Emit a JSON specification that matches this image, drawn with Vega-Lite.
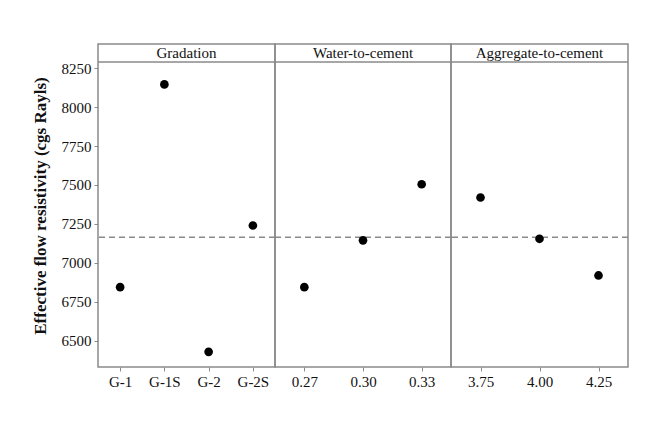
{
  "$schema": "https://vega.github.io/schema/vega-lite/v6.json",
  "background": "white",
  "padding": {"left": 30, "top": 43, "right": 5, "bottom": 5},
  "bounds": "flush",
  "datasets": {
    "effects": [
      {"factor": "Gradation", "level": "G-1", "value": 6845},
      {"factor": "Gradation", "level": "G-1S", "value": 8145},
      {"factor": "Gradation", "level": "G-2", "value": 6430},
      {"factor": "Gradation", "level": "G-2S", "value": 7240},
      {"factor": "Water-to-cement", "level": "0.27", "value": 6845},
      {"factor": "Water-to-cement", "level": "0.30", "value": 7145},
      {"factor": "Water-to-cement", "level": "0.33", "value": 7505},
      {"factor": "Aggregate-to-cement", "level": "3.75", "value": 7420},
      {"factor": "Aggregate-to-cement", "level": "4.00", "value": 7155},
      {"factor": "Aggregate-to-cement", "level": "4.25", "value": 6920}
    ],
    "headers": [
      {"factor": "Gradation"},
      {"factor": "Water-to-cement"},
      {"factor": "Aggregate-to-cement"}
    ]
  },
  "spacing": 0,
  "config": {
    "view": {"stroke": "#8a8a8a", "strokeWidth": 1.5},
    "font": "Liberation Serif, Times New Roman, serif",
    "text": {"font": "Liberation Serif, Times New Roman, serif", "fontWeight": "normal"},
    "axis": {
      "labelFont": "Liberation Serif, Times New Roman, serif",
      "labelFontSize": 15,
      "labelColor": "#111",
      "tickColor": "#8a8a8a",
      "tickSize": 4,
      "grid": false,
      "domain": false,
      "titleFont": "Liberation Serif, Times New Roman, serif"
    }
  },
  "hconcat": [
    {
      "width": 177,
      "height": 323,
      "layer": [
        {
          "data": {"name": "headers"},
          "transform": [{"filter": "datum.factor === 'Gradation'"}],
          "mark": {"type": "rule", "color": "#8a8a8a", "strokeWidth": 1.5},
          "encoding": {"y": {"datum": 8289, "type": "quantitative"}}
        },
        {
          "data": {"name": "headers"},
          "transform": [{"filter": "datum.factor === 'Gradation'"}],
          "mark": {"type": "text", "fontSize": 15, "fontWeight": "normal", "color": "#111", "baseline": "middle"},
          "encoding": {"y": {"datum": 8348, "type": "quantitative"}, "text": {"field": "factor"}}
        },
        {
          "data": {"name": "effects"},
          "transform": [{"filter": "datum.factor === 'Gradation'"}],
          "mark": {"type": "rule", "color": "#8a8a8a", "strokeWidth": 1.5, "strokeDash": [6, 4]},
          "encoding": {"y": {"aggregate": "mean", "field": "value", "type": "quantitative"}}
        },
        {
          "data": {"name": "effects"},
          "transform": [{"filter": "datum.factor === 'Gradation'"}],
          "mark": {"type": "point", "filled": true, "color": "black", "opacity": 1, "size": 75},
          "encoding": {
            "x": {"field": "level", "type": "nominal", "sort": null, "scale": {"type": "point", "padding": 0.5}, "axis": {"title": null, "labelAngle": 0, "labelPadding": 3}},
            "y": {
              "field": "value", "type": "quantitative",
              "scale": {"domain": [6333, 8404], "nice": false, "zero": false},
              "axis": {"title": "Effective flow resistivity (cgs Rayls)", "format": "d", "titleFontSize": 17, "titleFontWeight": "bold", "titleColor": "#111", "titlePadding": 12, "values": [6500, 6750, 7000, 7250, 7500, 7750, 8000, 8250], "labelPadding": 3}
            }
          }
        }
      ]
    },
    {
      "width": 176,
      "height": 323,
      "layer": [
        {
          "data": {"name": "headers"},
          "transform": [{"filter": "datum.factor === 'Water-to-cement'"}],
          "mark": {"type": "rule", "color": "#8a8a8a", "strokeWidth": 1.5},
          "encoding": {"y": {"datum": 8289, "type": "quantitative", "scale": {"domain": [6333, 8404], "nice": false, "zero": false}, "axis": null}}
        },
        {
          "data": {"name": "headers"},
          "transform": [{"filter": "datum.factor === 'Water-to-cement'"}],
          "mark": {"type": "text", "fontSize": 15, "fontWeight": "normal", "color": "#111", "baseline": "middle"},
          "encoding": {"y": {"datum": 8348, "type": "quantitative"}, "text": {"field": "factor"}}
        },
        {
          "data": {"name": "effects"},
          "transform": [{"filter": "datum.factor === 'Water-to-cement'"}],
          "mark": {"type": "rule", "color": "#8a8a8a", "strokeWidth": 1.5, "strokeDash": [6, 4]},
          "encoding": {"y": {"aggregate": "mean", "field": "value", "type": "quantitative"}}
        },
        {
          "data": {"name": "effects"},
          "transform": [{"filter": "datum.factor === 'Water-to-cement'"}],
          "mark": {"type": "point", "filled": true, "color": "black", "opacity": 1, "size": 75},
          "encoding": {
            "x": {"field": "level", "type": "nominal", "sort": null, "scale": {"type": "point", "padding": 0.5}, "axis": {"title": null, "labelAngle": 0, "labelPadding": 3}},
            "y": {"field": "value", "type": "quantitative"}
          }
        }
      ]
    },
    {
      "width": 177,
      "height": 323,
      "layer": [
        {
          "data": {"name": "headers"},
          "transform": [{"filter": "datum.factor === 'Aggregate-to-cement'"}],
          "mark": {"type": "rule", "color": "#8a8a8a", "strokeWidth": 1.5},
          "encoding": {"y": {"datum": 8289, "type": "quantitative", "scale": {"domain": [6333, 8404], "nice": false, "zero": false}, "axis": null}}
        },
        {
          "data": {"name": "headers"},
          "transform": [{"filter": "datum.factor === 'Aggregate-to-cement'"}],
          "mark": {"type": "text", "fontSize": 15, "fontWeight": "normal", "color": "#111", "baseline": "middle"},
          "encoding": {"y": {"datum": 8348, "type": "quantitative"}, "text": {"field": "factor"}}
        },
        {
          "data": {"name": "effects"},
          "transform": [{"filter": "datum.factor === 'Aggregate-to-cement'"}],
          "mark": {"type": "rule", "color": "#8a8a8a", "strokeWidth": 1.5, "strokeDash": [6, 4]},
          "encoding": {"y": {"aggregate": "mean", "field": "value", "type": "quantitative"}}
        },
        {
          "data": {"name": "effects"},
          "transform": [{"filter": "datum.factor === 'Aggregate-to-cement'"}],
          "mark": {"type": "point", "filled": true, "color": "black", "opacity": 1, "size": 75},
          "encoding": {
            "x": {"field": "level", "type": "nominal", "sort": null, "scale": {"type": "point", "padding": 0.5}, "axis": {"title": null, "labelAngle": 0, "labelPadding": 3}},
            "y": {"field": "value", "type": "quantitative"}
          }
        }
      ]
    }
  ]
}
